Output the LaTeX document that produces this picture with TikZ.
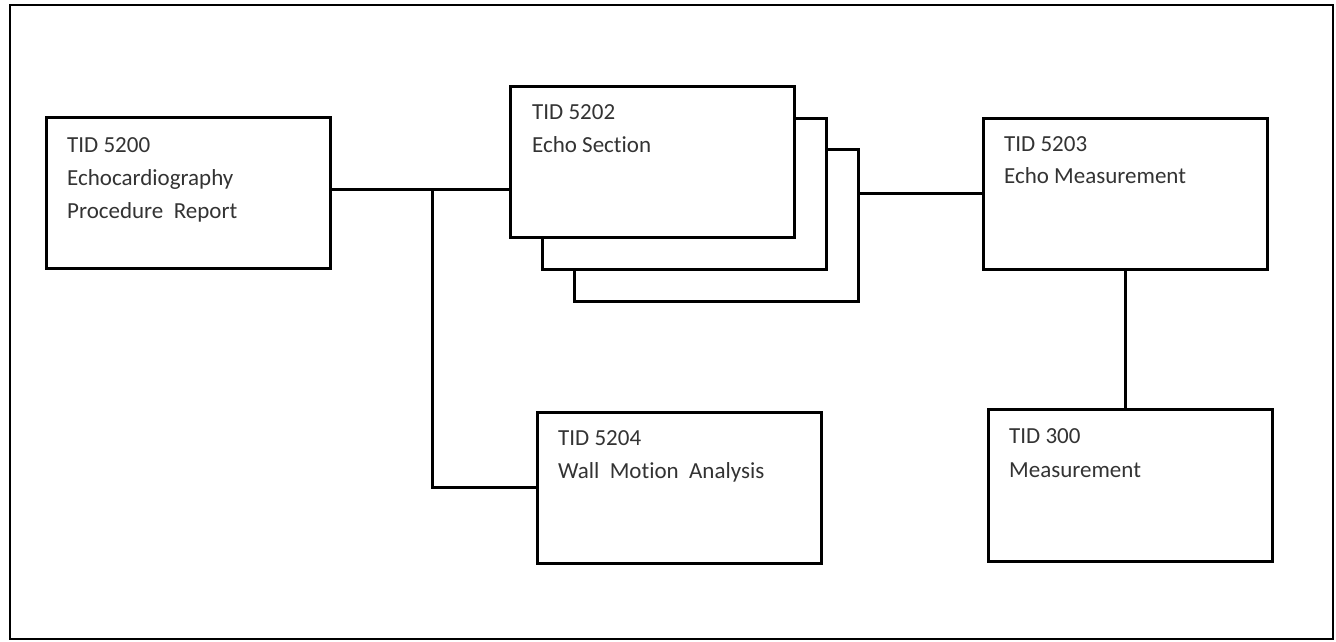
\documentclass[tikz,border=0pt]{standalone}
\usepackage{fontspec}
\setmainfont{Carlito}[Ligatures={NoCommon}]
\begin{document}
\begin{tikzpicture}[x=1pt,y=-1pt,
  box/.style={draw=black,line width=3pt,fill=white,anchor=north west,inner sep=0pt,outer sep=0pt,minimum width=#1},
  txt/.style={anchor=base west,inner sep=0pt,text=black!80,font=\fontsize{23}{33}\selectfont},
  wire/.style={draw=black,line width=3pt}]
\useasboundingbox (0,0) rectangle (1336,641);
\draw[line width=2pt] (10,5) rectangle (1333,639);
% boxes
\node[box=284pt,minimum height=151pt] (A) at (46,117) {};
\node[box=284pt,minimum height=152pt] (E3) at (574,149) {};
\node[box=284pt,minimum height=151pt] (E2) at (542,118) {};
\node[box=284pt,minimum height=151pt] (E1) at (510,86) {};
\node[box=284pt,minimum height=151pt] (C) at (983,118) {};
\node[box=284pt,minimum height=151pt] (D) at (537,412) {};
\node[box=284pt,minimum height=152pt] (M) at (988,409) {};
% texts
\node[txt] (a1) at (67,152) {TID 5200};
\node[txt] (a2) at (67,185) {Echocardiography};
\node[txt] (a3) at (67,218) {Procedure\ \ Report};
\node[txt] (e1) at (532,119) {TID 5202};
\node[txt] (e2) at (532,152) {Echo Section};
\node[txt] (c1) at (1004,151) {TID 5203};
\node[txt] (c2) at (1004,183) {Echo Measurement};
\node[txt] (d1) at (558,445) {TID 5204};
\node[txt] (d2) at (558,478) {Wall\ \ Motion\ \ Analysis};
\node[txt] (m1) at (1009,443) {TID 300};
\node[txt] (m2) at (1009,477) {Measurement};
% connectors
\coordinate (J) at (432,189);
\draw[wire] (A.east |- J) -- (E1.west |- J);
\draw[wire] (J) |- (D.west);
\draw[wire] (E3.east |- C.west) -- (C.west);
\draw[wire] (C.south) -- (C.south |- M.north);
\end{tikzpicture}
\end{document}
